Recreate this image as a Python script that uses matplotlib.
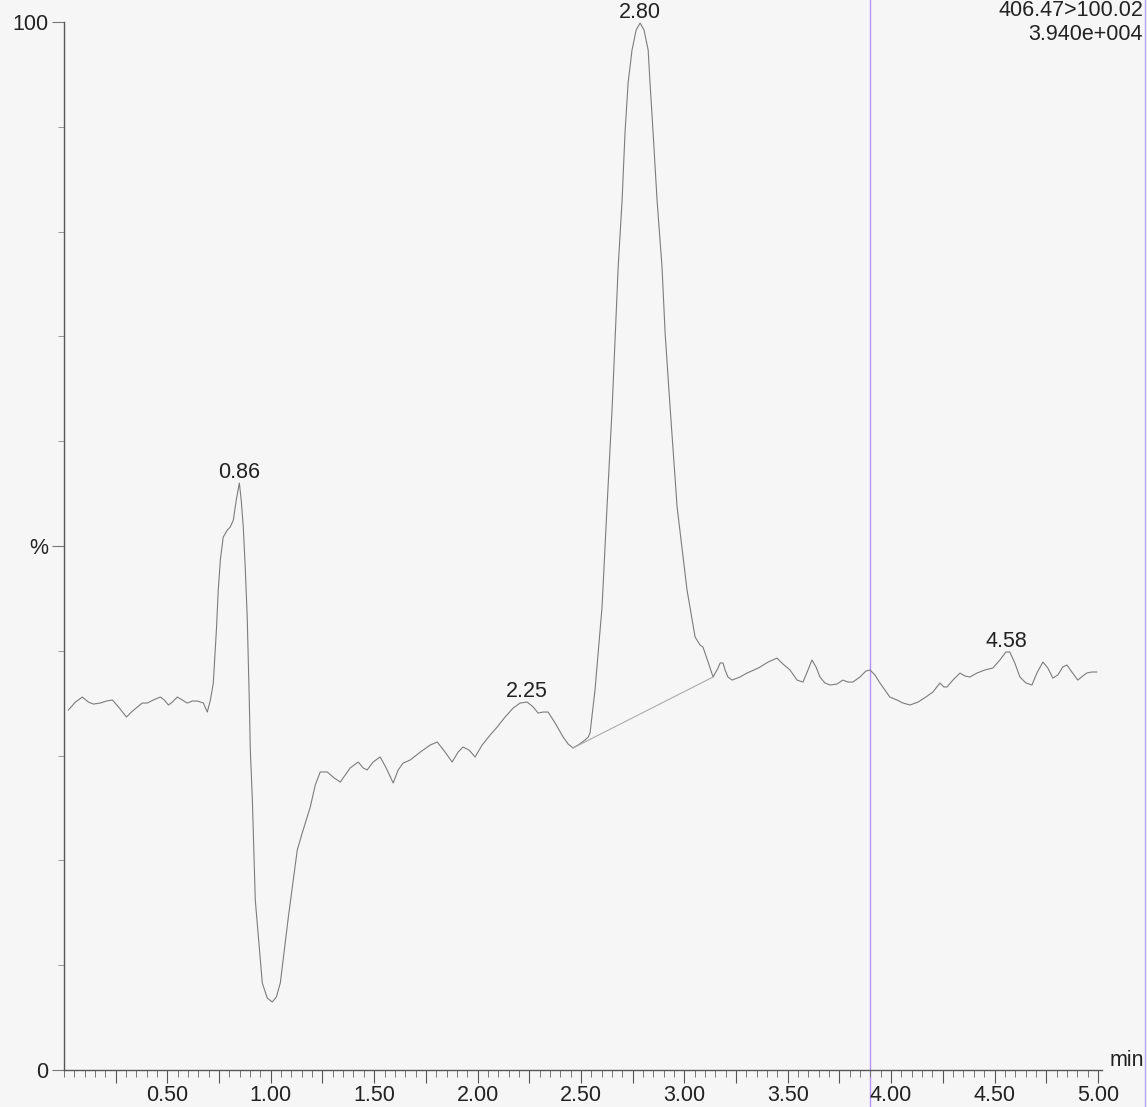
import numpy as np
import matplotlib
matplotlib.use('Agg')
import matplotlib.pyplot as plt
from matplotlib.lines import Line2D
from matplotlib.ticker import MultipleLocator, FixedLocator

plt.rcParams['font.family'] = ['Liberation Sans', 'DejaVu Sans']

# ---------------------------------------------------------------
# Chromatogram trace (time in min, intensity in %)
# ---------------------------------------------------------------
tiempo = [
    0.021, 0.055, 0.089, 0.118, 0.142, 0.176, 0.205, 0.234, 0.268, 0.302,
    0.326, 0.355, 0.379, 0.403, 0.432, 0.466, 0.485, 0.505, 0.524, 0.548,
    0.572, 0.596, 0.621, 0.645, 0.674, 0.693, 0.708, 0.722, 0.737, 0.746,
    0.756, 0.770, 0.790, 0.804, 0.819, 0.833, 0.848, 0.857, 0.867, 0.877,
    0.886, 0.896, 0.901, 0.911, 0.925, 0.959, 0.983, 1.007, 1.027, 1.046,
    1.085, 1.128, 1.152, 1.191, 1.215, 1.239, 1.273, 1.307, 1.336, 1.384,
    1.423, 1.447, 1.466, 1.495, 1.529, 1.558, 1.592, 1.616, 1.640, 1.674,
    1.723, 1.771, 1.805, 1.843, 1.877, 1.906, 1.930, 1.959, 1.988, 2.022,
    2.061, 2.095, 2.133, 2.172, 2.206, 2.240, 2.269, 2.293, 2.317, 2.341,
    2.375, 2.414, 2.438, 2.462, 2.486, 2.520, 2.535, 2.544, 2.568, 2.602,
    2.626, 2.651, 2.665, 2.680, 2.699, 2.713, 2.728, 2.747, 2.767, 2.786,
    2.805, 2.825, 2.834, 2.849, 2.868, 2.892, 2.907, 2.931, 2.965, 3.013,
    3.052, 3.076, 3.090, 3.115, 3.139, 3.163, 3.173, 3.187, 3.197, 3.211,
    3.231, 3.269, 3.303, 3.337, 3.366, 3.405, 3.448, 3.477, 3.511, 3.545,
    3.574, 3.598, 3.617, 3.637, 3.656, 3.680, 3.704, 3.738, 3.767, 3.791,
    3.815, 3.849, 3.878, 3.898, 3.922, 3.946, 3.970, 3.994, 4.028, 4.057,
    4.091, 4.130, 4.168, 4.202, 4.221, 4.236, 4.255, 4.270, 4.299, 4.333,
    4.357, 4.381, 4.415, 4.453, 4.492, 4.526, 4.555, 4.574, 4.598, 4.623,
    4.652, 4.681, 4.705, 4.734, 4.758, 4.782, 4.806, 4.830, 4.850, 4.874,
    4.903, 4.927, 4.946, 4.970, 4.995,
]
intensidad = [
    34.35, 35.11, 35.59, 35.11, 34.92, 35.02, 35.21, 35.31, 34.54, 33.68,
    34.16, 34.64, 35.02, 35.02, 35.31, 35.59, 35.31, 34.83, 35.11, 35.59,
    35.31, 35.02, 35.21, 35.21, 35.02, 34.16, 35.31, 36.93, 41.98, 45.80,
    48.66, 50.86, 51.53, 51.81, 52.48, 54.39, 56.01, 54.39, 51.81, 47.71,
    43.23, 35.31, 30.53, 25.76, 16.22, 8.30, 6.87, 6.49, 6.97, 8.30,
    14.60, 20.99, 22.61, 25.10, 27.19, 28.44, 28.44, 27.86, 27.48, 28.82,
    29.39, 28.82, 28.63, 29.39, 29.87, 28.82, 27.39, 28.63, 29.29, 29.58,
    30.34, 31.01, 31.30, 30.34, 29.39, 30.34, 30.82, 30.53, 29.87, 31.01,
    31.97, 32.73, 33.68, 34.54, 35.02, 35.11, 34.64, 34.06, 34.16, 34.16,
    33.11, 31.77, 31.11, 30.73, 31.01, 31.49, 31.77, 32.16, 36.26, 44.18,
    53.72, 63.26, 69.66, 76.62, 83.02, 89.41, 94.18, 97.33, 99.24, 99.90,
    99.24, 97.33, 94.18, 89.41, 83.02, 76.62, 70.32, 63.26, 53.72, 45.80,
    41.32, 40.55, 40.36, 38.93, 37.50, 38.36, 38.84, 38.84, 38.17, 37.50,
    37.21, 37.50, 37.88, 38.17, 38.45, 38.93, 39.31, 38.74, 38.17, 37.21,
    37.02, 38.17, 39.12, 38.45, 37.50, 36.93, 36.74, 36.83, 37.21, 37.02,
    37.02, 37.50, 38.07, 38.17, 37.69, 36.93, 36.26, 35.59, 35.31, 35.02,
    34.83, 35.11, 35.59, 36.07, 36.55, 36.93, 36.55, 36.55, 37.21, 37.88,
    37.60, 37.50, 37.88, 38.17, 38.36, 39.12, 39.89, 39.89, 38.84, 37.50,
    36.93, 36.74, 37.88, 38.93, 38.36, 37.40, 37.69, 38.45, 38.65, 37.98,
    37.21, 37.60, 37.88, 37.98, 37.98,
]

# integration baseline under the main peak
base_t = [2.462, 3.139]
base_y = [30.73, 37.50]

# peak labels (retention times)
picos = ['0.86', '2.25', '2.80', '4.58']

# marker line (purple)
t_marca = 3.90

canal = '406.47>100.02'
escala = '3.940e+004'

# ---------------------------------------------------------------
# Figure
# ---------------------------------------------------------------
fondo = '#f6f6f6'
tam = 15.5
fig = plt.figure(figsize=(11.47, 11.07), dpi=100, facecolor=fondo)
ax = fig.add_axes([0.0558, 0.0334, 0.905, 0.9467])
ax.set_facecolor(fondo)

t = np.array(tiempo)
y = np.array(intensidad)

ax.plot(t, y, color='#7c7c7c', linewidth=0.8)
ax.plot(base_t, base_y, color='#ababab', linewidth=0.8)

ax.axvline(t_marca, ymin=-0.04, ymax=1.03, color='#b894f2',
           linewidth=1.0, clip_on=False, zorder=0)

# peak labels at the apex of each peak
for lab in picos:
    tp = float(lab)
    mask = np.abs(t - tp) < 0.06
    i = np.argmax(np.where(mask, y, -1))
    ax.annotate(lab, (t[i], y[i]), xytext=(0, 0), textcoords='offset points',
                ha='center', va='bottom', fontsize=tam, color='#222222',
                annotation_clip=False)

ax.set_xlim(0, 5.02)
ax.set_ylim(0, 100)

for s in ['top', 'right']:
    ax.spines[s].set_visible(False)
for s in ['left', 'bottom']:
    ax.spines[s].set_color('#555555')
    ax.spines[s].set_linewidth(1.0)

# x ticks: every 0.25 long (labels on the halves), 0.05 short
xt = np.arange(0.25, 5.01, 0.25)
ax.xaxis.set_major_locator(FixedLocator(xt))
ax.set_xticklabels([f'{v:.2f}' if abs(v * 2 - round(v * 2)) < 1e-6 else '' for v in xt])
ax.xaxis.set_minor_locator(MultipleLocator(0.05))
ax.tick_params(axis='x', which='major', length=9, width=0.8, color='#555555',
               labelsize=tam, labelcolor='#222222', pad=2)
ax.tick_params(axis='x', which='minor', length=5, width=0.7, color='#777777')

ax.set_yticks([0, 50, 100])
ax.set_yticklabels(['0', '%', '100'])
ax.yaxis.set_minor_locator(MultipleLocator(10))
ax.tick_params(axis='y', which='major', length=9, width=0.8, color='#777777',
               labelsize=tam, labelcolor='#222222', pad=2)
ax.tick_params(axis='y', which='minor', length=4, width=0.7, color='#999999')

fig.text(1110 / 1147, 1 - 1060 / 1107, 'min', ha='left', va='center',
         fontsize=tam, color='#222222')
fig.text(1143 / 1147, 1 - 11 / 1107, canal, ha='right', va='center',
         fontsize=tam, color='#222222')
fig.text(1143 / 1147, 1 - 34 / 1107, escala, ha='right', va='center',
         fontsize=tam, color='#222222')

# scan edge line on the right
fig.add_artist(Line2D([1145 / 1147, 1145 / 1147], [0, 1], color='#b0a8f5',
                      linewidth=1.0))

fig.savefig('out.png', dpi=100, facecolor=fondo)
